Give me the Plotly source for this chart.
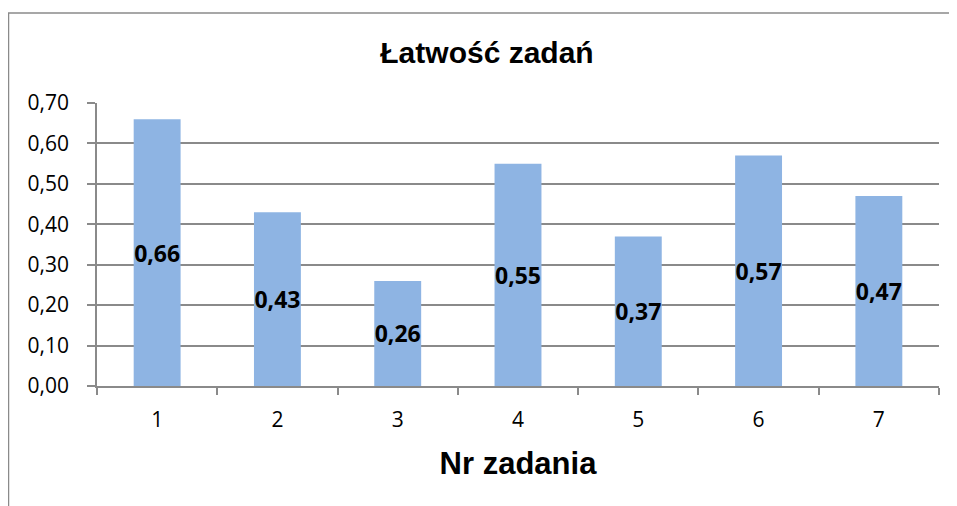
import plotly.graph_objects as go

categories = ["1", "2", "3", "4", "5", "6", "7"]
values = [0.66, 0.43, 0.26, 0.55, 0.37, 0.57, 0.47]
y_ticks = [0.0, 0.1, 0.2, 0.3, 0.4, 0.5, 0.6, 0.7]
title_text = "Łatwość zadań"
x_title = "Nr zadania"

OFF = 8  # page body margin
W, H = 957 - OFF, 506 - OFF
L, R, T, B = 97 - OFF, 18, 103 - OFF, 120
pw, ph = W - L - R, H - T - B

grey = "#8a8a8a"

fig = go.Figure(go.Bar(
    x=categories, y=values,
    marker=dict(color="#8EB4E3", line=dict(width=0)),
    texttemplate="%{y:.2f}", textposition="inside", insidetextanchor="middle",
    textfont=dict(family="Open Sans", size=23, color="black", weight="bold"),
    textangle=0, width=0.39, constraintext="none",
))

fig.update_layout(
    width=W, height=H,
    margin=dict(l=L, r=R, t=T, b=B, autoexpand=False),
    paper_bgcolor="white", plot_bgcolor="white",
    separators=", ",
    showlegend=False,
    uniformtext=dict(mode=False),
    title=dict(text=title_text, x=(487 - OFF) / W, xanchor="center",
               y=1 - (52 - OFF) / H, yanchor="middle",
               font=dict(family="Liberation Sans", size=30, color="black", weight="bold")),
    font=dict(family="Open Sans", color="black"),
)

fig.update_yaxes(
    range=[0, 0.7], tickvals=y_ticks, tickformat=".2f",
    showgrid=True, gridcolor=grey, gridwidth=1.5,
    showline=True, linecolor=grey, linewidth=1.5,
    ticks="outside", ticklen=8, tickcolor=grey, tickwidth=1.5,
    tickfont=dict(family="Open Sans", size=21, color="black"),
    ticklabelstandoff=14, zeroline=False, automargin=False,
)
fig.update_xaxes(
    type="category", tickson="boundaries",
    showgrid=False, showline=True, linecolor=grey, linewidth=1.5,
    ticks="outside", ticklen=7, tickcolor=grey, tickwidth=1.5,
    tickfont=dict(family="Open Sans", size=21, color="black"),
    ticklabelstandoff=14,
    title=dict(text=x_title, standoff=20,
               font=dict(family="Liberation Sans", size=31, color="black", weight="bold")),
    automargin=False,
)

# outer chart frame (extends past the right and bottom image edges)
fig.add_shape(type="rect", xref="paper", yref="paper",
              x0=(0.5 - L) / pw, x1=(W + 20 - L) / pw,
              y0=-(H + 20 - (T + ph)) / ph, y1=(T + ph - (13 - OFF)) / ph,
              line=dict(color=grey, width=1.5), fillcolor="rgba(0,0,0,0)", layer="below")

fig.write_html("out.html")
